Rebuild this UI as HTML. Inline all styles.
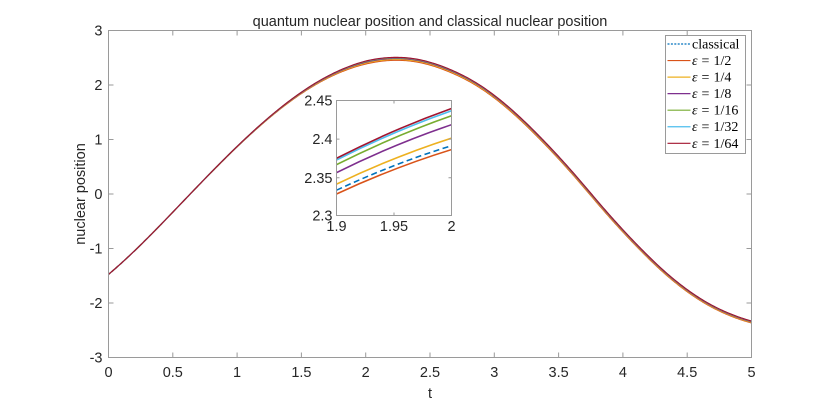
<!DOCTYPE html>
<html><head><meta charset="utf-8"><style>
html,body{margin:0;padding:0;background:#fff;}
svg{display:block;}
.tk{font-family:"Liberation Sans",Arial,sans-serif;font-size:14.5px;fill:#262626;}
.lg{font-family:"Liberation Serif","Times New Roman",serif;font-size:14px;fill:#000;}
</style></head><body>
<svg id="s" width="830" height="402" viewBox="0 0 830 402" xmlns="http://www.w3.org/2000/svg">
<rect width="830" height="402" fill="#fff"/>
<defs>
<clipPath id="mc"><rect x="108.5" y="30.5" width="643" height="327"/></clipPath>
<clipPath id="ic"><rect x="336.5" y="100.5" width="115" height="115"/></clipPath>
</defs>
<g id="main" clip-path="url(#mc)" fill="none" stroke-width="1.2"></g>
<!-- main axes -->
<g stroke="#9a9a9a" stroke-width="1" fill="none">
<rect x="108.5" y="30.5" width="643" height="327"/>
<g id="mticks"></g>
</g>
<g id="mlabels" class="tk"></g>
<text class="tk" x="430" y="26" text-anchor="middle" font-size="15.5">quantum nuclear position and classical nuclear position</text>
<text class="tk" x="430" y="398" text-anchor="middle" font-size="15">t</text>
<text class="tk" transform="translate(85,194) rotate(-90)" text-anchor="middle" font-size="15">nuclear position</text>
<!-- inset -->
<rect x="336.5" y="100.5" width="115" height="115" fill="#fff"/>
<g clip-path="url(#ic)" fill="none" stroke-width="1.6">
<path d="M336.5,190.2 Q394,163.45 451.5,145.7" stroke="#0072BD" stroke-dasharray="6,3.5"/>
<path d="M336.5,194.0 Q394,167.3 451.5,149.6" stroke="#D95319"/>
<path d="M336.5,184.1 Q394,156.6 451.5,138.1" stroke="#EDB120"/>
<path d="M336.5,172.6 Q394,144.15 451.5,124.7" stroke="#7E2F8E"/>
<path d="M336.5,164.7 Q394,135.75 451.5,115.8" stroke="#77AC30"/>
<path d="M336.5,160.0 Q394,130.9 451.5,110.8" stroke="#4DBEEE"/>
<path d="M336.5,158.3 Q394,128.9 451.5,108.5" stroke="#A2142F"/>
</g>
<g stroke="#9a9a9a" stroke-width="1" fill="none">
<rect x="336.5" y="100.5" width="115" height="115"/>
<path d="M394,215.5v-3M394,100.5v3M336.5,139.1h3M336.5,177.8h3M451.5,139.1h-3M451.5,177.8h-3"/>
</g>
<g class="tk" font-size="14">
<text x="336.5" y="231" text-anchor="middle">1.9</text>
<text x="394" y="231" text-anchor="middle">1.95</text>
<text x="451.5" y="231" text-anchor="middle">2</text>
<text x="332.5" y="105.5" text-anchor="end">2.45</text>
<text x="332.5" y="144.1" text-anchor="end">2.4</text>
<text x="332.5" y="182.8" text-anchor="end">2.35</text>
<text x="332.5" y="220.5" text-anchor="end">2.3</text>
</g>
<!-- legend -->
<rect x="665.5" y="35.5" width="80" height="118" fill="#fff" stroke="#9a9a9a" stroke-width="1"/>
<g stroke-width="1.2" fill="none">
<path d="M667.5,44H690.5" stroke="#0072BD" stroke-dasharray="2,1.4"/>
<path d="M667.5,60.55H690.5" stroke="#D95319"/>
<path d="M667.5,77.1H690.5" stroke="#EDB120"/>
<path d="M667.5,93.65H690.5" stroke="#7E2F8E"/>
<path d="M667.5,110.2H690.5" stroke="#77AC30"/>
<path d="M667.5,126.75H690.5" stroke="#4DBEEE"/>
<path d="M667.5,143.3H690.5" stroke="#A2142F"/>
</g>
<g class="lg">
<text x="692" y="48.5">classical</text>
<text x="692" y="65"><tspan font-style="italic">ε</tspan><tspan dx="4">=</tspan><tspan dx="4">1/2</tspan></text>
<text x="692" y="81.6"><tspan font-style="italic">ε</tspan><tspan dx="4">=</tspan><tspan dx="4">1/4</tspan></text>
<text x="692" y="98.1"><tspan font-style="italic">ε</tspan><tspan dx="4">=</tspan><tspan dx="4">1/8</tspan></text>
<text x="692" y="114.7"><tspan font-style="italic">ε</tspan><tspan dx="4">=</tspan><tspan dx="4">1/16</tspan></text>
<text x="692" y="131.2"><tspan font-style="italic">ε</tspan><tspan dx="4">=</tspan><tspan dx="4">1/32</tspan></text>
<text x="692" y="147.8"><tspan font-style="italic">ε</tspan><tspan dx="4">=</tspan><tspan dx="4">1/64</tspan></text>
</g>
</svg>
<script>
(function(){
var NS="http://www.w3.org/2000/svg";
function X(t){return 108.5+t*128.6;}
function Y(v){return 194-v*54.5;}
var A=2.46;
var P=[[0,-2.214],[0.636,-1.5708],[1.5,-0.7222],[2.24,0],[2.58,0.35],[2.89,0.655],[3.357,1.15],[3.616,1.43],[3.875,1.72],[4.134,2.0],[4.393,2.275],[4.652,2.535],[5.0,2.858]];
var n=P.length,m=[];
for(var i=0;i<n;i++){
 var d0=i>0?(P[i][1]-P[i-1][1])/(P[i][0]-P[i-1][0]):null;
 var d1=i<n-1?(P[i+1][1]-P[i][1])/(P[i+1][0]-P[i][0]):null;
 m.push(d0===null?d1:(d1===null?d0:(d0+d1)/2));
}
function TH(t){
 var k=0;while(k<n-2&&t>P[k+1][0])k++;
 var h=P[k+1][0]-P[k][0],s=(t-P[k][0])/h;
 var h00=2*s*s*s-3*s*s+1,h10=s*s*s-2*s*s+s,h01=-2*s*s*s+3*s*s,h11=s*s*s-s*s;
 return h00*P[k][1]+h10*h*m[k]+h01*P[k+1][1]+h11*h*m[k+1];
}
function C(t){return A*Math.cos(TH(t));}
function g(t){return t<=2?Math.pow(t/2,2.7):1-0.12*(t-2);}
var series=[["#0072BD",0,"5,3"],["#D95319",-0.006],["#EDB120",0.010],["#7E2F8E",0.027],["#77AC30",0.039],["#4DBEEE",0.045],["#A2142F",0.048]];
var main=document.getElementById("main");
series.forEach(function(s){
 var d="";
 for(var j=0;j<=500;j++){var t=j/100;var v=C(t)+s[1]*g(t);d+=(j?"L":"M")+X(t).toFixed(2)+","+Y(v).toFixed(2);}
 var p=document.createElementNS(NS,"path");p.setAttribute("d",d);p.setAttribute("stroke",s[0]);
 if(s[2])p.setAttribute("stroke-dasharray",s[2]);
 main.appendChild(p);
});
var tk=document.getElementById("mticks"),lb=document.getElementById("mlabels"),d="";
for(var i=0;i<=10;i++){
 var t=i/2,x=X(t);d+="M"+x+",357.5v-5M"+x+",30.5v5";
 var tx=document.createElementNS(NS,"text");tx.setAttribute("x",x);tx.setAttribute("y",377);tx.setAttribute("text-anchor","middle");tx.textContent=String(t);lb.appendChild(tx);
}
for(var v=-3;v<=3;v++){
 var y=Y(v);d+="M108.5,"+y+"h5M751.5,"+y+"h-5";
 var ty=document.createElementNS(NS,"text");ty.setAttribute("x",102.5);ty.setAttribute("y",y+5);ty.setAttribute("text-anchor","end");ty.textContent=String(v);lb.appendChild(ty);
}
var tp=document.createElementNS(NS,"path");tp.setAttribute("d",d);tk.appendChild(tp);
})();
</script>
</body></html>
